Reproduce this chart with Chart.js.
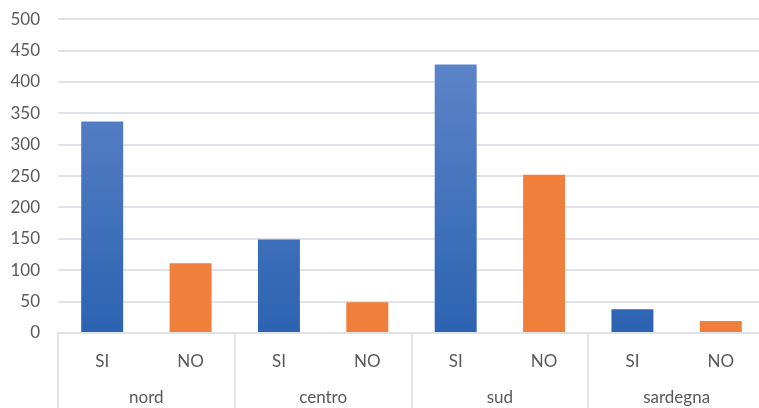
<!DOCTYPE html>
<html>
<head>
<meta charset="utf-8">
<script src="https://cdn.jsdelivr.net/npm/chart.js@4/dist/chart.umd.min.js"></script>
<style>
html,body{margin:0;padding:0;background:#fff;overflow:hidden;width:759px;height:408px;}
#wrap{position:relative;width:759px;height:408px;overflow:hidden;}
#c{position:absolute;left:0;top:-9px;}
</style>
</head>
<body>
<div id="wrap"><canvas id="c" width="770" height="417"></canvas></div>
<script>
const groups = ['nord', 'centro', 'sud', 'sardegna'];
const answers = ['SI', 'NO'];
const siValues = [337, 149, 428, 38];
const noValues = [111, 49, 252, 19];
const yTicks = [0, 50, 100, 150, 200, 250, 300, 350, 400, 450, 500];

const labels = [];
const values = [];
const kinds = [];
groups.forEach((g, i) => {
  labels.push(answers[0]); values.push(siValues[i]); kinds.push('SI');
  labels.push(answers[1]); values.push(noValues[i]); kinds.push('NO');
});

const textColor = '#595959';
const gridColor = '#dfe3e9';
const fontFam = 'Lato, "Open Sans", sans-serif';

function barColor(ctx) {
  const kind = kinds[ctx.dataIndex];
  if (kind === 'NO') return '#ef7f3a';
  const chart = ctx.chart;
  const area = chart.chartArea;
  if (!area) return '#3a6cb8';
  const y0 = chart.scales.y.getPixelForValue(0);
  const y1 = chart.scales.y.getPixelForValue(500);
  const g = chart.ctx.createLinearGradient(0, y1, 0, y0);
  g.addColorStop(0, '#6489cc');
  g.addColorStop(1, '#2c63b1');
  return g;
}

const separators = {
  id: 'separators',
  afterDraw(chart) {
    const x2 = chart.scales.x2;
    const area = chart.chartArea;
    const ctx = chart.ctx;
    const half = (x2.getPixelForValue(1) - x2.getPixelForValue(0)) / 2;
    ctx.save();
    ctx.strokeStyle = '#d9dde2';
    ctx.lineWidth = 1.5;
    for (let i = 0; i <= groups.length; i++) {
      const xp = Math.round(x2.getPixelForValue(0) - half + i * 2 * half);
      ctx.beginPath();
      ctx.moveTo(xp, area.bottom);
      ctx.lineTo(xp, chart.height);
      ctx.stroke();
    }
    ctx.restore();
  }
};

new Chart(document.getElementById('c'), {
  type: 'bar',
  data: {
    labels: labels,
    datasets: [{
      data: values,
      backgroundColor: barColor,
      borderWidth: 0,
      barPercentage: 0.95,
      categoryPercentage: 0.5
    }]
  },
  options: {
    responsive: false,
    animation: false,
    layout: { padding: { top: 0, right: 5, left: 0, bottom: 0 } },
    plugins: { legend: { display: false }, tooltip: { enabled: false } },
    scales: {
      y: {
        min: 0, max: 500,
        afterBuildTicks: (s) => { s.ticks = yTicks.map(v => ({ value: v })); },
        afterFit: (s) => { s.width = 58; },
        border: { display: false },
        grid: { color: gridColor, lineWidth: 2, drawTicks: false },
        ticks: { color: textColor, font: { family: fontFam, size: 17 }, padding: 18 }
      },
      x: {
        position: 'bottom',
        afterFit: (s) => { s.height = 45; },
        grid: { display: false },
        border: { display: true, color: gridColor, width: 2 },
        ticks: { color: textColor, font: { family: fontFam, size: 17 }, padding: 10, maxRotation: 0, autoSkip: false }
      },
      x2: {
        type: 'category',
        position: 'bottom',
        labels: groups,
        offset: true,
        afterFit: (s) => { s.height = 30; },
        grid: { display: false },
        border: { display: false },
        ticks: { color: textColor, font: { family: fontFam, size: 17 }, padding: 1, maxRotation: 0, autoSkip: false }
      }
    }
  },
  plugins: [separators]
});
</script>
</body>
</html>
